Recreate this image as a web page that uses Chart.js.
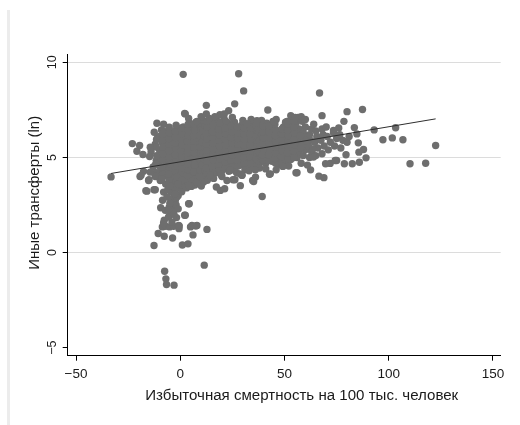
<!DOCTYPE html>
<html>
<head>
<meta charset="utf-8">
<script src="https://cdn.jsdelivr.net/npm/chart.js@4/dist/chart.umd.min.js"></script>
<style>
  html, body { margin: 0; padding: 0; background: #ffffff; }
  #wrap { position: relative; width: 520px; height: 425px; overflow: hidden; }
  #stripe { position: absolute; left: 7px; top: 10px; width: 3px; height: 415px; background: #ececec; }
  canvas { position: absolute; left: 0; top: 0; }
</style>
</head>
<body>
<div id="wrap">
  <div id="stripe"></div>
  <canvas id="c" width="520" height="425"></canvas>
</div>
<script>
// ---- Texts ----
const xTitle = 'Избыточная смертность на 100 тыс. человек';
const yTitle = 'Иные трансферты (ln)';
const xTickValues = [-50, 0, 50, 100, 150];
const xTickLabels = ['\u221250', '0', '50', '100', '150'];
const yTickValues = [-5, 0, 5, 10];
const yTickLabels = ['\u22125', '0', '5', '10'];

// ---- Fitted line ----
const fitX = [-33.2, 122.5];
const fitY = [4.16, 7.03];

// ---- Observations [excess mortality, ln other transfers] ----
const outlierPoints = [
  [1.4,9.37],[28.0,9.40],[30.4,8.50],[66.8,8.39],[26.1,7.82],[12.5,7.74],[2.1,7.31],[42.0,7.50],
  [87.4,7.52],[80.0,7.41],[23.2,7.46],[21.1,7.29],[16.6,7.15],[-11.2,6.80],[68.0,7.20],[78.5,6.90],
  [83.5,6.57],[93.0,6.45],[103.3,6.56],[97.2,5.93],[101.7,6.03],[106.8,5.93],[122.5,5.63],[110.2,4.67],
  [117.7,4.70],[89.1,4.98],[87.9,5.42],[85.7,5.28],[85.4,5.77],[84.7,6.24],[79.5,5.14],[78.7,4.67],
  [82.5,4.67],[85.9,4.75],[75.0,4.84],[71.9,4.69],[69.7,4.67],[66.5,4.02],[68.9,3.94],[62.5,4.35],
  [55.5,4.20],[42.8,4.12],[39.3,2.95],[49.2,4.53],[73.5,6.42],[12.5,7.29],[8.0,6.89],[32.0,6.77],
  [36.8,6.94],[44.8,6.89],[51.2,6.89],[55.2,7.11],[-5.3,6.59],[2.4,7.29],[63.9,5.02],[74.3,4.84]
];
const edgePoints = [
  [-8,6.75],[-2,6.7],[4,7.05],[10,7.15],[14,7.05],[19,7.25],[25,7.1],[30,6.95],[34,7.0],
  [39,6.95],[46,7.0],[53,7.2],[58,7.15],[60,7.0],[-12,4.0],[3,3.4],[7,3.55],[13,3.8],
  [16,3.9],[20,4.0],[27,4.2],[31,4.35],[33,4.3],[38,4.45],[41,4.4],[46,4.35],[52,4.55],
  [58,4.7],[61,4.6],[64,6.75],[70,6.6],[76,6.55]
];
const lowPoints = [
  [-33.2,3.98],[-23.0,5.73],[-19.5,5.63],[-20.8,5.33],[-17.9,5.16],[-19.3,4.00],[-17.6,4.27],[-15.0,3.83],
  [-16.5,3.25],[-12.6,3.30],[-14.4,5.54],[-14.7,5.05],[-12.5,6.33],[-8.0,3.18],[-9.6,3.79],[-8.5,2.75],
  [-9.4,2.36],[-7.2,2.22],[-8.6,1.35],[-7.7,1.70],[-10.6,1.00],[-7.7,0.86],[-12.6,0.37],[-6.9,1.38],
  [-5.1,1.35],[-3.7,0.77],[-3.2,1.38],[-4.8,2.05],[-3.2,2.22],[-5.3,2.39],[-4.0,2.83],[-2.4,2.75],
  [-1.8,1.84],[-0.5,1.40],[-0.6,1.26],[2.1,1.96],[4.3,2.57],[4.9,1.35],[7.5,1.40],[6.1,0.93],
  [12.8,1.22],[1.0,0.40],[3.7,0.46],[11.5,-0.66],[-7.5,-0.98],[-6.9,-1.38],[-6.6,-1.68],[-3.0,-1.71],
  [5.3,3.48],[10.1,3.50],[17.3,3.45],[19.2,3.27],[21.3,3.36],[28.8,3.52],[34.7,3.79],[36.1,3.97],
  [28.6,4.14],[25.3,3.83],[19.5,4.11],[23.3,4.28],[36.0,4.35],[11.2,3.71],[29.6,4.06],[43.2,4.14],
  [56.0,4.20],[24.0,4.32],[-16.0,3.23],[-12.0,3.30],[-8.8,3.88],[-6.4,2.92],[-5.6,2.22],[-1.6,2.92],
  [-2.4,3.44],[-1.6,3.97],[-8.0,1.56],[-4.0,1.61],[-0.8,1.43],[4.0,2.57],[2.4,1.96],[-5.6,1.87],
  [5.6,1.43],[8.0,1.43],[-14.4,4.23],[-9.6,4.49],[-4.8,4.67],[4.0,3.53],[8.0,3.71],[0.8,3.79],
  [9.6,3.97],[14.4,4.06],[22.4,3.79],[-15.2,3.79],[-18.8,4.06],[-2.0,2.50],[-5.0,2.60],[-1.0,2.30],
  [-3.0,2.00],[-6.0,3.30],[-2.5,3.10],[-5.0,3.50],[-1.0,3.60],[26.2,3.83],[29.6,4.06],[35.2,3.74]
];
const coreLeft = [
  [-13,4.5],[-11.5,4.85],[-14,5.3],[-12,5.7],[-10.8,6.05],
  [-10,3.95],[-9,4.3],[-10.5,4.7],[-9.5,5.0],[-10,5.4],[-8.5,5.75],[-10,6.1],[-9,6.45],
  [-7,3.6],[-6,4.0],[-7.5,4.3],[-6.5,4.65],[-7,4.9],[-6,5.2],[-7.5,5.5],[-6.5,5.85],[-7,6.1],[-6,6.4],
  [-4,2.6],[-3,2.9],[-4.5,3.2],[-3.5,3.5],[-4,3.8],[-3,4.1],[-4.5,4.4],[-3.5,4.75],[-4,5.0],[-3,5.3],[-4.5,5.6],[-3.5,5.9],[-4,6.25],
  [-1,3.0],[0,3.4],[-1.5,3.7],[-0.5,4.0],[-1,4.3],[0,4.6],[-1.5,4.9],[-0.5,5.2],[-1,5.5],[0,5.8],[-1.5,6.1],[-0.5,6.4],
  [2,3.6],[3,3.9],[1.5,4.2],[2.5,4.5],[2,4.8],[3,5.1],[1.5,5.4],[2.5,5.7],[2,6.0],[3,6.3],[1.5,6.6],
  [5,3.8],[6,4.1],[4.5,4.4],[5.5,4.7],[5,5.0],[6,5.3],[4.5,5.6],[5.5,5.9],[5,6.2],[6,6.5],[4.5,6.8],
  [8,3.9],[9,4.2],[7.5,4.5],[8.5,4.8],[8,5.1],[9,5.4],[7.5,5.7],[8.5,6.0],[8,6.3],[9,6.6],[7.5,6.85]
];
const coreMid = [
  [11,4.0],[12,4.3],[10.5,4.6],[11.5,4.9],[11,5.2],[12,5.5],[10.5,5.8],[11.5,6.1],[11,6.4],[12,6.7],[10.5,7.0],
  [14,4.1],[15,4.4],[13.5,4.7],[14.5,5.0],[14,5.3],[15,5.6],[13.5,5.9],[14.5,6.2],[14,6.5],[15,6.8],
  [17,4.2],[18,4.5],[16.5,4.8],[17.5,5.1],[17,5.4],[18,5.7],[16.5,6.0],[17.5,6.3],[17,6.6],[18,6.9],
  [20,4.3],[21,4.6],[19.5,4.9],[20.5,5.2],[20,5.5],[21,5.8],[19.5,6.1],[20.5,6.4],[20,6.7],[21,7.05],
  [23,4.4],[24,4.7],[22.5,5.0],[23.5,5.3],[23,5.6],[24,5.9],[22.5,6.2],[23.5,6.5],[23,6.8],
  [26,4.45],[27,4.7],[25.5,5.0],[26.5,5.3],[26,5.6],[27,5.9],[25.5,6.2],[26.5,6.5],[26,6.85],
  [29,4.6],[30,4.9],[28.5,5.2],[29.5,5.5],[29,5.8],[30,6.1],[28.5,6.4],[29.5,6.7],
  [32,4.6],[33,4.9],[31.5,5.2],[32.5,5.5],[32,5.8],[33,6.1],[31.5,6.4],[32.5,6.7],
  [35,4.5],[36,4.8],[34.5,5.1],[35.5,5.4],[35,5.7],[36,6.0],[34.5,6.3],[35.5,6.6],[35,6.85]
];
const coreRight = [
  [38,4.7],[39,5.0],[37.5,5.3],[38.5,5.6],[38,5.9],[39,6.2],[37.5,6.5],[38.5,6.75],
  [41,4.7],[42,5.0],[40.5,5.3],[41.5,5.6],[41,5.9],[42,6.2],[40.5,6.5],[41.5,6.8],
  [44,4.8],[45,5.1],[43.5,5.4],[44.5,5.7],[44,6.0],[45,6.3],[43.5,6.6],[44.5,6.9],
  [47,4.6],[48,4.9],[46.5,5.2],[47.5,5.5],[47,5.8],[48,6.1],[46.5,6.4],
  [50,4.8],[51,5.1],[49.5,5.4],[50.5,5.7],[50,6.0],[51,6.3],[49.5,6.6],[50.5,6.85],
  [53,4.9],[54,5.2],[52.5,5.5],[53.5,5.8],[53,6.1],[54,6.4],[52.5,6.7],[53.5,7.0],
  [56,5.0],[57,5.3],[55.5,5.6],[56.5,5.9],[56,6.2],[57,6.5],[55.5,6.8],[56.5,7.1],
  [59,5.1],[60,5.4],[58.5,5.7],[59.5,6.0],[59,6.3],[60,6.6],[58.5,6.9],
  [62,5.0],[63,5.3],[61.5,5.6],[62.5,5.9],[62,6.2],[63,6.5],
  [65,5.1],[66,5.5],[64.5,5.8],[65.5,6.1],[65,6.4],
  [68,5.2],[69,5.6],[67.5,5.9],[68.5,6.2],[68,6.5],
  [71,5.4],[72,5.8],[70.5,6.1],
  [74,5.6],[75,6.0],[73.5,6.3],
  [77,5.5],[78,5.9],[76.5,6.2],
  [80,5.8],[81,6.1]
];
const coreFillLeft = [
  [-11.5,4.2],[-11.8,4.65],[-11.3,5.1],[-11.6,5.55],[-11.4,5.95],
  [-8.3,4.1],[-8.6,4.5],[-8.1,4.85],[-8.4,5.2],[-8.2,5.55],[-8.5,5.9],[-8.3,6.25],
  [-5.3,3.8],[-5.6,4.15],[-5.1,4.5],[-5.4,4.8],[-5.2,5.05],[-5.5,5.35],[-5.3,5.7],[-5.6,6.0],[-5.2,6.3],
  [-2.3,2.4],[-2.6,2.75],[-2.1,3.05],[-2.4,3.35],[-2.2,3.65],[-2.5,3.95],[-2.3,4.25],[-2.6,4.55],[-2.1,4.9],[-2.4,5.15],[-2.2,5.45],[-2.5,5.75],[-2.3,6.05],[-2.6,6.4],
  [0.7,3.2],[0.4,3.55],[0.9,3.85],[0.6,4.15],[0.8,4.45],[0.5,4.75],[0.7,5.05],[0.4,5.35],[0.9,5.65],[0.6,5.95],[0.8,6.25],[0.5,6.55],
  [3.7,3.75],[3.4,4.05],[3.9,4.35],[3.6,4.65],[3.8,4.95],[3.5,5.25],[3.7,5.55],[3.4,5.85],[3.9,6.15],[3.6,6.45],[3.8,6.75],
  [6.7,3.85],[6.4,4.25],[6.9,4.6],[6.6,4.95],[6.8,5.25],[6.5,5.55],[6.7,5.85],[6.4,6.15],[6.9,6.45],[6.6,6.75],
  [9.7,4.05],[9.4,4.35],[9.9,4.65],[9.6,4.95],[9.8,5.25],[9.5,5.55],[9.7,5.85],[9.4,6.15],[9.9,6.45],[9.6,6.8]
];
const coreFillMid = [
  [12.7,4.15],[12.4,4.45],[12.9,4.8],[12.6,5.1],[12.8,5.4],[12.5,5.7],[12.7,6.0],[12.4,6.3],[12.9,6.6],[12.6,6.9],
  [15.7,4.25],[15.4,4.55],[15.9,4.85],[15.6,5.15],[15.8,5.45],[15.5,5.75],[15.7,6.05],[15.4,6.35],[15.9,6.65],[15.6,6.95],
  [18.7,4.35],[18.4,4.65],[18.9,4.95],[18.6,5.3],[18.8,5.6],[18.5,5.9],[18.7,6.2],[18.4,6.5],[18.9,6.8],
  [21.7,4.45],[21.4,4.75],[21.9,5.05],[21.6,5.35],[21.8,5.65],[21.5,5.95],[21.7,6.25],[21.4,6.55],[21.9,6.9],
  [24.7,4.5],[24.4,4.85],[24.9,5.15],[24.6,5.45],[24.8,5.75],[24.5,6.05],[24.7,6.35],[24.4,6.65],
  [27.7,4.55],[27.4,4.85],[27.9,5.1],[27.6,5.4],[27.8,5.7],[27.5,6.0],[27.7,6.3],[27.4,6.6],
  [30.7,4.7],[30.4,5.0],[30.9,5.35],[30.6,5.65],[30.8,5.95],[30.5,6.25],[30.7,6.55],
  [33.7,4.7],[33.4,5.05],[33.9,5.35],[33.6,5.65],[33.8,5.95],[33.5,6.25],[33.7,6.55],
  [36.7,4.6],[36.4,4.95],[36.9,5.25],[36.6,5.55],[36.8,5.85],[36.5,6.15],[36.7,6.45],[36.4,6.7]
];
const coreFillRight = [
  [39.7,4.85],[39.4,5.15],[39.9,5.45],[39.6,5.75],[39.8,6.05],[39.5,6.35],[39.7,6.65],
  [42.7,4.85],[42.4,5.15],[42.9,5.45],[42.6,5.75],[42.8,6.05],[42.5,6.35],[42.7,6.65],
  [45.7,4.7],[45.4,4.95],[45.9,5.25],[45.6,5.55],[45.8,5.85],[45.5,6.15],[45.7,6.45],[45.4,6.75],
  [48.7,4.75],[48.4,5.05],[48.9,5.35],[48.6,5.65],[48.8,5.95],[48.5,6.25],[48.7,6.5],
  [51.7,4.9],[51.4,5.25],[51.9,5.55],[51.6,5.85],[51.8,6.15],[51.5,6.45],[51.7,6.75],
  [54.7,5.0],[54.4,5.35],[54.9,5.65],[54.6,5.95],[54.8,6.3],[54.5,6.6],[54.7,6.9],
  [57.7,5.5],[57.6,6.15],[60.7,5.85],[63.6,5.45]
];

const allPoints = [].concat(coreLeft, coreFillLeft, coreMid, coreFillMid, coreRight, coreFillRight, edgePoints, lowPoints, outlierPoints);

const FONT = '"Liberation Sans", Arial, Helvetica, sans-serif';
const TEXT_COLOR = '#1a1a1a';

function fitText(ctx, text, targetWidth) {
  const w = ctx.measureText(text).width;
  const k = targetWidth / w;
  ctx.scale(k, 1);
  ctx.fillText(text, 0, 0);
}

const textPlugin = {
  id: 'stataText',
  afterDraw(chart) {
    const ctx = chart.ctx;
    const xs = chart.scales.x, ys = chart.scales.y;
    ctx.save();
    ctx.fillStyle = TEXT_COLOR;
    ctx.font = '13.5px ' + FONT;
    ctx.textAlign = 'center';
    ctx.textBaseline = 'alphabetic';
    xTickValues.forEach((v, i) => {
      ctx.fillText(xTickLabels[i], xs.getPixelForValue(v), 377.5);
    });
    ctx.font = '12.5px ' + FONT;
    yTickValues.forEach((v, i) => {
      ctx.save();
      ctx.translate(56, ys.getPixelForValue(v));
      ctx.rotate(-Math.PI / 2);
      ctx.fillText(yTickLabels[i], 0, 0);
      ctx.restore();
    });
    ctx.font = '14px ' + FONT;
    ctx.save();
    ctx.translate(301.7, 399.5);
    fitText(ctx, xTitle, 313);
    ctx.restore();
    ctx.save();
    ctx.translate(38.5, 192.8);
    ctx.rotate(-Math.PI / 2);
    fitText(ctx, yTitle, 154);
    ctx.restore();
    ctx.restore();
  }
};

new Chart(document.getElementById('c'), {
  type: 'scatter',
  data: {
    datasets: [
      {
        type: 'line',
        data: fitX.map((x, i) => ({ x: x, y: fitY[i] })),
        borderColor: '#2e2e2e',
        borderWidth: 1,
        pointRadius: 0,
        showLine: true,
        fill: false,
        order: 0
      },
      {
        type: 'scatter',
        data: allPoints.map(p => ({ x: p[0], y: p[1] })),
        backgroundColor: '#6e6e6e',
        borderWidth: 0,
        pointRadius: 3.7,
        pointHoverRadius: 3.7,
        order: 1
      }
    ]
  },
  options: {
    responsive: false,
    animation: false,
    devicePixelRatio: 1,
    layout: { padding: { left: 62.7, top: 54, right: 19.3, bottom: 64.3 } },
    plugins: { legend: { display: false }, tooltip: { enabled: false } },
    scales: {
      x: {
        type: 'linear',
        min: -54,
        max: 153.7,
        afterBuildTicks: s => { s.ticks = xTickValues.map(v => ({ value: v })); },
        afterFit: s => { s.height = 5; },
        ticks: { display: false },
        grid: { drawOnChartArea: false, drawTicks: true, tickLength: 5, tickColor: '#000', color: '#000' },
        border: { display: true, color: '#000', width: 1 }
      },
      y: {
        type: 'linear',
        min: -5.42,
        max: 10.44,
        afterBuildTicks: s => { s.ticks = yTickValues.map(v => ({ value: v })); },
        afterFit: s => { s.width = 5; },
        ticks: { display: false },
        grid: {
          drawTicks: true, tickLength: 5, tickColor: '#000',
          color: c => (c.tick && c.tick.value === -5) ? 'rgba(0,0,0,0)' : '#dcdcdc',
          lineWidth: 1
        },
        border: { display: true, color: '#000', width: 1 }
      }
    }
  },
  plugins: [textPlugin]
});
</script>
</body>
</html>
